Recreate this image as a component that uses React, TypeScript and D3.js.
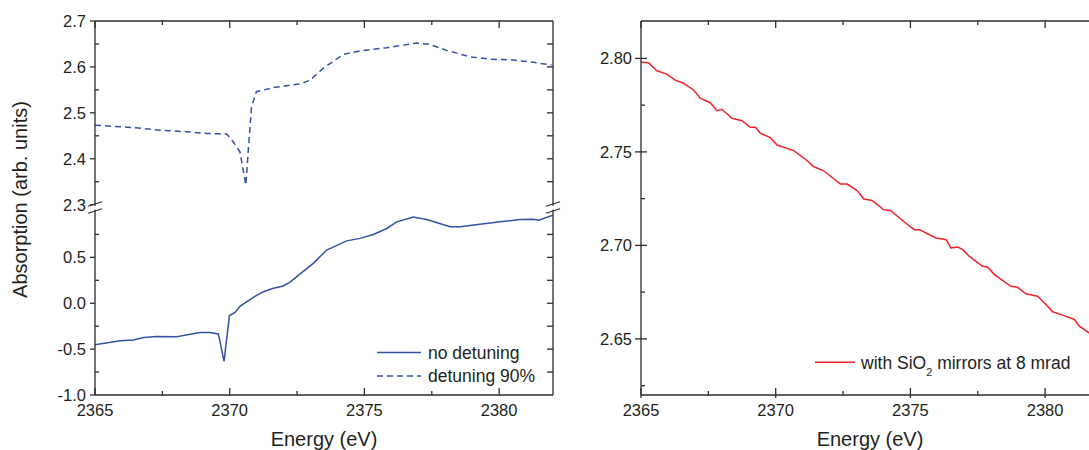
import React from 'react'
import * as d3 from 'd3'

// left panel, lower part: "no detuning"
const energySolid = [2365.0, 2365.93, 2366.42, 2366.8, 2367.29, 2368.04, 2368.53, 2368.9, 2369.27, 2369.58, 2369.79, 2369.99, 2370.2, 2370.39, 2370.88, 2371.25, 2371.62, 2371.99, 2372.24, 2372.49, 2373.1, 2373.6, 2374.34, 2374.84, 2375.33, 2375.83, 2376.2, 2376.82, 2377.31, 2378.18, 2378.55, 2379.29, 2380.03, 2380.78, 2381.27, 2381.46, 2382.0]
const absSolid = [-0.453, -0.41, -0.4, -0.374, -0.363, -0.366, -0.337, -0.32, -0.318, -0.334, -0.634, -0.134, -0.1, -0.03, 0.065, 0.126, 0.163, 0.188, 0.23, 0.29, 0.435, 0.58, 0.68, 0.707, 0.75, 0.815, 0.887, 0.94, 0.913, 0.833, 0.833, 0.862, 0.887, 0.913, 0.916, 0.905, 0.96]

// left panel, upper part: "detuning 90%"
const energyDashed = [2365.0, 2366.42, 2367.41, 2368.4, 2369.15, 2369.89, 2370.13, 2370.38, 2370.6, 2370.69, 2370.81, 2370.99, 2371.62, 2372.61, 2372.98, 2373.47, 2374.21, 2374.84, 2375.83, 2376.94, 2377.43, 2378.05, 2378.92, 2379.66, 2380.53, 2381.27, 2381.95]
const absDashed = [2.473, 2.468, 2.462, 2.459, 2.455, 2.454, 2.437, 2.415, 2.343, 2.419, 2.513, 2.546, 2.555, 2.563, 2.571, 2.597, 2.627, 2.635, 2.642, 2.652, 2.649, 2.636, 2.622, 2.617, 2.615, 2.61, 2.604]

// right panel: SiO2 mirrors
const energyRed = [2365.0, 2365.28, 2365.59, 2365.96, 2366.27, 2366.58, 2366.95, 2367.2, 2367.57, 2367.82, 2368.0, 2368.38, 2368.75, 2369.06, 2369.25, 2369.43, 2369.8, 2370.05, 2370.67, 2371.16, 2371.4, 2371.78, 2372.4, 2372.65, 2373.02, 2373.27, 2373.58, 2374.01, 2374.26, 2374.88, 2375.15, 2375.34, 2375.71, 2375.95, 2376.33, 2376.5, 2376.76, 2376.94, 2377.19, 2377.68, 2377.87, 2378.12, 2378.73, 2378.98, 2379.29, 2379.72, 2379.97, 2380.28, 2380.65, 2381.09, 2381.27, 2381.73, 2382.0]
const absRed = [2.798, 2.7977, 2.7934, 2.7916, 2.7884, 2.7867, 2.7831, 2.7787, 2.7763, 2.772, 2.7728, 2.768, 2.7667, 2.7632, 2.7632, 2.76, 2.7576, 2.7537, 2.7507, 2.7454, 2.7422, 2.7399, 2.7328, 2.7328, 2.7293, 2.7248, 2.724, 2.719, 2.7187, 2.7113, 2.7084, 2.7084, 2.7057, 2.704, 2.703, 2.6986, 2.6991, 2.6977, 2.6941, 2.6888, 2.6883, 2.6844, 2.6781, 2.6776, 2.6741, 2.6728, 2.6693, 2.6645, 2.6627, 2.6604, 2.6568, 2.6523, 2.65]

const xTicks = [2365, 2370, 2375, 2380]
const xMinor = [2367.5, 2372.5, 2377.5]
const upperTicks = [2.3, 2.4, 2.5, 2.6, 2.7]
const upperMinor = [2.35, 2.45, 2.55, 2.65]
const lowerTicks = [-1.0, -0.5, 0.0, 0.5]
const lowerMinor = [-0.75, -0.25, 0.25, 0.75]
const rightTicks = [2.65, 2.7, 2.75, 2.8]
const rightMinor = [2.625, 2.675, 2.725, 2.775]
const legendLeft = ['no detuning', 'detuning 90%']

const blue = '#3452a3'
const red = '#ee2429'
const axisColor = '#2b2b2b'
const font = '"Liberation Sans", Arial, sans-serif'
const textColor = '#231f20'

export default function App() {
  const width = 1089,
    height = 450,
    top = 21,
    bottom = 395

  // left panel
  const xL = d3.scaleLinear().domain([2365, 2382]).range([95, 553])
  const yUp = d3.scaleLinear().domain([2.3, 2.7]).range([204.7, top])
  const yLo = d3.scaleLinear().domain([-1, 1]).range([bottom, 211.5])

  // right panel
  const xR = d3.scaleLinear().domain([2365, 2382]).range([641, 1099])
  const yR = d3.scaleLinear().domain([2.62, 2.82]).range([bottom, top])

  const lineSolid = d3
    .line<number>()
    .x((d, i) => xL(energySolid[i]))
    .y(d => yLo(d))
  const lineDashed = d3
    .line<number>()
    .x((d, i) => xL(energyDashed[i]))
    .y(d => yUp(d))
  const lineRed = d3
    .line<number>()
    .x((d, i) => xR(energyRed[i]))
    .y(d => yR(d))

  const L0 = xL.range()[0],
    L1 = xL.range()[1],
    R0 = xR.range()[0],
    R1 = xR.range()[1]

  const breakMarks = (cx: number) =>
    [204, 211].map(cy => (
      <line
        key={`${cx}-${cy}`}
        x1={cx - 7}
        y1={cy + 2.3}
        x2={cx + 7}
        y2={cy - 2.3}
        stroke={axisColor}
        strokeWidth={1.2}
      />
    ))

  return (
    <svg
      width={width}
      height={height}
      style={{ position: 'absolute', left: 0, top: 0, background: '#fff' }}
      fontFamily={font}>
      {/* ---------- left panel ---------- */}
      <defs>
        <clipPath id='clipUp'>
          <rect x={L0} y={top} width={L1 - L0} height={yUp(2.3) - top} />
        </clipPath>
        <clipPath id='clipLo'>
          <rect x={L0} y={yLo(1)} width={L1 - L0} height={bottom - yLo(1)} />
        </clipPath>
      </defs>

      <path
        d={lineDashed(absDashed) || ''}
        fill='none'
        stroke={blue}
        strokeWidth={1.5}
        strokeDasharray='6 4'
        clipPath='url(#clipUp)'
      />
      <path
        d={lineSolid(absSolid) || ''}
        fill='none'
        stroke={blue}
        strokeWidth={1.5}
        clipPath='url(#clipLo)'
      />

      <g stroke={axisColor} strokeWidth={1.3} fill='none'>
        <line x1={L0} y1={top} x2={L1} y2={top} />
        <line x1={L0} y1={bottom} x2={L1} y2={bottom} />
        <line x1={L0} y1={top} x2={L0} y2={bottom} />
        <line x1={L1} y1={top} x2={L1} y2={bottom} />
        {xTicks.map(t => (
          <g key={t}>
            <line x1={xL(t)} x2={xL(t)} y1={bottom} y2={bottom - 7} />
            <line x1={xL(t)} x2={xL(t)} y1={top} y2={top + 7} />
          </g>
        ))}
        {xMinor.map(t => (
          <g key={t}>
            <line x1={xL(t)} x2={xL(t)} y1={bottom} y2={bottom - 4} />
            <line x1={xL(t)} x2={xL(t)} y1={top} y2={top + 4} />
          </g>
        ))}
        {upperTicks.map(t => (
          <line key={t} x1={L0 - 5} x2={L0} y1={yUp(t)} y2={yUp(t)} />
        ))}
        {lowerTicks.map(t => (
          <line key={t} x1={L0 - 5} x2={L0} y1={yLo(t)} y2={yLo(t)} />
        ))}
        {upperMinor.map(t => (
          <line key={t} x1={L0} x2={L0 + 4} y1={yUp(t)} y2={yUp(t)} />
        ))}
        {lowerMinor.map(t => (
          <line key={t} x1={L0} x2={L0 + 4} y1={yLo(t)} y2={yLo(t)} />
        ))}
        {d3.range(2.35, 2.69, 0.05).map(t => (
          <line key={t} x1={L1 - 6} x2={L1} y1={yUp(t)} y2={yUp(t)} />
        ))}
        {d3.range(-0.75, 0.8, 0.25).map(t => (
          <line key={t} x1={L1 - 6} x2={L1} y1={yLo(t)} y2={yLo(t)} />
        ))}
      </g>
      <rect x={L0 - 8} y={yUp(2.3) + 1} width={16} height={4} fill='#fff' />
      <rect x={L1 - 8} y={yUp(2.3) + 1} width={16} height={4} fill='#fff' />
      {breakMarks(L0)}
      {breakMarks(L1)}

      <g fontSize={16.5} fill={textColor}>
        {xTicks.map(t => (
          <text key={t} x={xL(t)} y={416} textAnchor='middle'>
            {t}
          </text>
        ))}
        {upperTicks.map(t => (
          <text key={t} x={86} y={yUp(t)} dy='0.36em' textAnchor='end'>
            {t.toFixed(1)}
          </text>
        ))}
        {lowerTicks.map(t => (
          <text key={t} x={86} y={yLo(t)} dy='0.36em' textAnchor='end'>
            {t.toFixed(1)}
          </text>
        ))}
      </g>

      <text
        fontSize={20}
        fill={textColor}
        textAnchor='middle'
        transform={`translate(27,${(297 + 102) / 2}) rotate(-90)`}>
        Absorption (arb. units)
      </text>
      <text x={(L0 + L1) / 2} y={446} fontSize={20} fill={textColor} textAnchor='middle'>
        Energy (eV)
      </text>

      <g className='legend'>
        {legendLeft.map((d, i) => (
          <g key={d} transform={`translate(377,${352.5 + i * 23.5})`}>
            <line
              x1={0}
              x2={44}
              stroke={blue}
              strokeWidth={1.5}
              strokeDasharray={i === 1 ? '6 4' : undefined}
            />
            <text x={51} dy='0.36em' fontSize={17.5} fill={textColor}>
              {d}
            </text>
          </g>
        ))}
      </g>

      {/* ---------- right panel ---------- */}
      <path d={lineRed(absRed) || ''} fill='none' stroke={red} strokeWidth={1.5} />

      <g stroke={axisColor} strokeWidth={1.3} fill='none'>
        <line x1={R0} y1={top} x2={R1} y2={top} />
        <line x1={R0} y1={bottom} x2={R1} y2={bottom} />
        <line x1={R0} y1={top} x2={R0} y2={bottom} />
        {xTicks.map(t => (
          <g key={t}>
            <line x1={xR(t)} x2={xR(t)} y1={bottom + 3} y2={bottom - 7} />
            <line x1={xR(t)} x2={xR(t)} y1={top} y2={top + 7} />
          </g>
        ))}
        {xMinor.map(t => (
          <g key={t}>
            <line x1={xR(t)} x2={xR(t)} y1={bottom} y2={bottom - 4} />
            <line x1={xR(t)} x2={xR(t)} y1={top} y2={top + 4} />
          </g>
        ))}
        {rightTicks.map(t => (
          <line key={t} x1={R0 - 6} x2={R0 + 6} y1={yR(t)} y2={yR(t)} />
        ))}
        {rightMinor.map(t => (
          <line key={t} x1={R0} x2={R0 + 4} y1={yR(t)} y2={yR(t)} />
        ))}
      </g>

      <g fontSize={16.5} fill={textColor}>
        {xTicks.map(t => (
          <text key={t} x={xR(t)} y={416} textAnchor='middle'>
            {t}
          </text>
        ))}
        {rightTicks.map(t => (
          <text key={t} x={632} y={yR(t)} dy='0.36em' textAnchor='end'>
            {t.toFixed(2)}
          </text>
        ))}
      </g>
      <text x={(R0 + R1) / 2} y={446} fontSize={20} fill={textColor} textAnchor='middle'>
        Energy (eV)
      </text>

      <g transform='translate(815,362.3)'>
        <line x1={0} x2={40} stroke={red} strokeWidth={1.5} />
        <text x={46} dy='0.36em' fontSize={17.5} fill={textColor}>
          with SiO
          <tspan fontSize={11} dy='7'>
            2
          </tspan>
          <tspan dy='-7'> mirrors at 8 mrad</tspan>
        </text>
      </g>
    </svg>
  )
}
